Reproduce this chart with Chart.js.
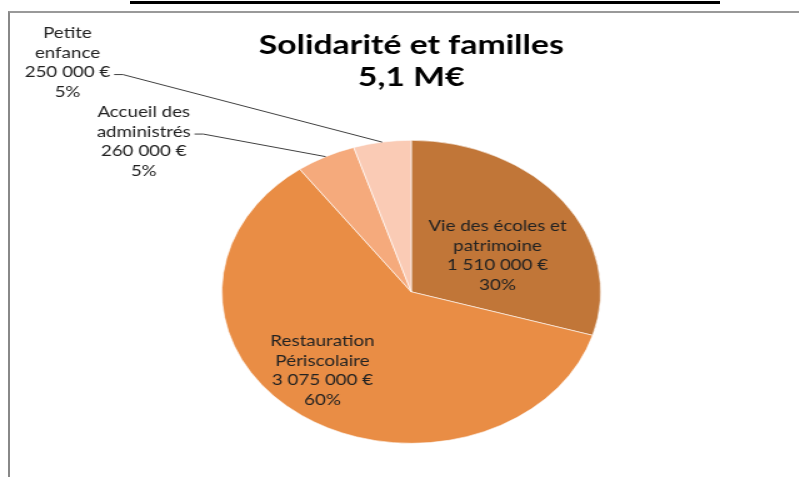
<!DOCTYPE html>
<html>
<head>
<meta charset="utf-8">
<script src="https://cdn.jsdelivr.net/npm/chart.js@4/dist/chart.umd.min.js"></script>
<style>
  body { margin: 0; background: #fff; }
  #wrap { position: relative; width: 799px; height: 477px; overflow: hidden; }
  #topline { position: absolute; left: 130px; top: 1px; width: 590px; height: 3px; background: #000; }
  #frame { position: absolute; left: 8px; top: 11px; width: 900px; height: 600px; border-left: 2px solid #888; border-top: 2px solid #999; }
  /* the original picture is stretched sideways, so the whole chart is too */
  canvas { position: absolute; left: 0; top: 0; transform: scaleX(1.25); transform-origin: 0 0; }
</style>
</head>
<body>
<div id="wrap">
  <div id="topline"></div>
  <div id="frame"></div>
  <canvas id="pie" width="639" height="477"></canvas>
</div>
<script>
// categories (split on lines as in the chart) and amounts in euros
var categories = [
  ["Vie des écoles et", "patrimoine"],
  ["Restauration", "Périscolaire"],
  ["Accueil des", "administrés"],
  ["Petite", "enfance"],
];
var amounts = [1510000, 3075000, 260000, 250000];
var colors = ["#C17638", "#E98D45", "#F5AA7C", "#FACBB5"];

var total = amounts.reduce(function (a, b) { return a + b; }, 0);

function euro(v) {
  return String(v).replace(/\B(?=(\d{3})+(?!\d))/g, " ") + " €";
}

// label block centre, relative to the pie centre (canvas px); lead = line the leader starts from
var labelPos = [
  { dx: 69, dy: -36 },
  { dx: -71, dy: 79 },
  { dx: -214, dy: -150, lead: 1 },
  { dx: -275, dy: -229, lead: 2 },
];

var sliceLabels = {
  id: "sliceLabels",
  afterDraw: function (chart) {
    var ctx = chart.ctx;
    var lh = 19.5;
    ctx.save();
    ctx.font = "15px Lato";
    ctx.fillStyle = "#222";
    ctx.textAlign = "center";
    ctx.textBaseline = "middle";
    chart.getDatasetMeta(0).data.forEach(function (arc, i) {
      var p = labelPos[i];
      var lines = categories[i].concat([euro(amounts[i]), Math.round((amounts[i] / total) * 100) + "%"]);
      var bx = arc.x + p.dx;
      var by = arc.y + p.dy;
      lines.forEach(function (t, j) {
        ctx.fillText(t, bx, by + (j - 1.5) * lh);
      });
      if (p.lead !== undefined) {
        var w = ctx.measureText(lines[p.lead]).width;
        var sx = bx + w / 2 + 3;
        var sy = by + (p.lead - 1.5) * lh + 2;
        var mid = (arc.startAngle + arc.endAngle) / 2;
        var ex = arc.x + Math.cos(mid) * arc.outerRadius;
        var ey = arc.y + Math.sin(mid) * arc.outerRadius;
        ctx.strokeStyle = "#404040";
        ctx.lineWidth = 1;
        ctx.beginPath();
        ctx.moveTo(sx, sy);
        ctx.lineTo(sx + 7, sy);
        ctx.lineTo(ex, ey);
        ctx.stroke();
      }
    });
    ctx.restore();
  },
};

var ctx = document.getElementById("pie");
new Chart(ctx, {
  type: "pie",
  data: {
    labels: categories.map(function (c) { return c.join(" "); }),
    datasets: [
      {
        data: amounts,
        backgroundColor: colors,
        borderColor: "rgba(255,255,255,0.6)",
        borderWidth: 1,
      },
    ],
  },
  options: {
    responsive: false,
    animation: false,
    layout: {
      padding: { left: 177, right: 158, top: 0, bottom: 33 },
    },
    plugins: {
      legend: { display: false },
      tooltip: { enabled: false },
      title: {
        display: true,
        text: ["Solidarité et familles", "5,1 M€"],
        color: "#000",
        font: { family: "Lato", size: 27, weight: "bold", lineHeight: 1.16 },
        padding: { top: 30, bottom: 47 },
      },
    },
  },
  plugins: [sliceLabels],
});
</script>
</body>
</html>
